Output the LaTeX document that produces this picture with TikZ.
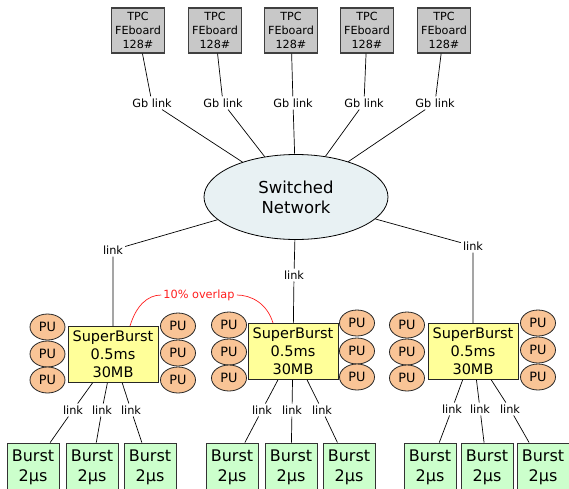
\documentclass[tikz,border=0pt]{standalone}
\usepackage{fontspec}
\setmainfont{DejaVu Sans}
\usetikzlibrary{shapes.geometric}
\definecolor{tpcgray}{RGB}{200,200,200}
\definecolor{swfill}{RGB}{232,241,243}
\definecolor{sbyellow}{RGB}{255,255,153}
\definecolor{puorange}{RGB}{249,196,150}
\definecolor{burstgreen}{RGB}{204,255,204}
\definecolor{ovred}{RGB}{255,30,30}
\begin{document}
\begin{tikzpicture}[x=1pt,y=-1pt,
  tpcbox/.style={draw, line width=1.2pt, draw=black!75, fill=tpcgray, minimum width=53pt, minimum height=45pt, inner sep=0pt, align=center, font=\fontsize{11.2}{13.8}\selectfont},
  lbl/.style={inner sep=2pt, font=\fontsize{11.3}{13}\selectfont},
  swnode/.style={ellipse, draw, line width=0.8pt, fill=swfill, minimum width=184pt, minimum height=85pt, inner sep=0pt, align=center, font=\fontsize{16.5}{20}\selectfont},
  sbbox/.style={draw, line width=0.9pt, draw=black!85, fill=sbyellow, minimum width=90pt, minimum height=56pt, inner sep=0pt, align=center, font=\fontsize{14.5}{18}\selectfont},
  punode/.style={ellipse, draw, line width=0.8pt, draw=black!85, fill=puorange, minimum width=35pt, minimum height=26pt, inner sep=0pt, font=\fontsize{12.8}{14}\selectfont},
  burstbox/.style={draw, line width=0.9pt, draw=black!80, fill=burstgreen, minimum width=52pt, minimum height=48pt, inner sep=0pt, align=center, font=\fontsize{16}{20}\selectfont},
  conn/.style={line width=0.7pt},
  ovconn/.style={line width=0.7pt, draw=ovred}
]
\useasboundingbox (0,0) rectangle (569,488);

% TPC boards
\foreach \i/\x in {1/138,2/215,3/291,4/367,5/444}
  \node[tpcbox] (tpc\i) at (\x,30.5) {TPC\\FEboard\\128\#};
% Gb link labels
\foreach \i/\x in {1/152,2/223,3/293,4/364,5/435}
  \node[lbl] (gl\i) at (\x,103) {Gb link};
% Switched network
\node[swnode] (sw) at (296,197) {Switched\\Network};
\foreach \i in {1,...,5}
  \draw[conn] (tpc\i) -- (gl\i) -- (sw);

% SuperBursts
\node[sbbox] (sb1) at (113,354.5) {SuperBurst\\0.5ms\\30MB};
\node[sbbox] (sb2) at (293,351.5) {SuperBurst\\0.5ms\\30MB};
\node[sbbox] (sb3) at (473,351.5) {SuperBurst\\0.5ms\\30MB};

% middle links
\node[lbl] (l1) at (113,250) {link};
\node[lbl] (l2) at (294,275) {link};
\node[lbl] (l3) at (473,246) {link};
\foreach \i in {1,2,3}
  \draw[conn] (sw) -- (l\i) -- (sb\i);

% PUs
\foreach \y [count=\j] in {327,354,380} \node[punode] (pua\j) at (47.5,\y) {PU};
\foreach \y [count=\j] in {326,353,380} \node[punode] (pub\j) at (178,\y) {PU};
\foreach \y [count=\j] in {325,352,378} \node[punode] (puc\j) at (229,\y) {PU};
\foreach \y [count=\j] in {323,351,377} \node[punode] (pud\j) at (357,\y) {PU};
\foreach \y [count=\j] in {325,352,378} \node[punode] (pue\j) at (407,\y) {PU};
\foreach \y [count=\j] in {323,350,377} \node[punode] (puf\j) at (538,\y) {PU};

% overlap
\node[lbl, text=ovred] (ov) at (199,295) {10\% overlap};
\draw[ovconn] ([xshift=17pt]sb1.north) .. controls +(6,-20) and +(-14,0) .. (ov.west);
\draw[ovconn] (ov.east) .. controls +(14,0) and +(-6,-20) .. ([xshift=-20pt]sb2.north);

% Bursts
\foreach \i/\x in {1/33,2/92,3/150,4/232,5/291,6/349,7/430,8/487,9/543}
  \node[burstbox] (b\i) at (\x,467) {Burst\\2µs};
% bottom link labels
\foreach \i/\x/\y in {1/73/410,2/102/410,3/131/410,4/262/410,5/292/410,6/322/410,7/452/409,8/480/409,9/510/409}
  \node[lbl] (bl\i) at (\x,\y) {link};
\foreach \i in {1,2,3} \draw[conn] (sb1) -- (bl\i) -- (b\i);
\foreach \i in {4,5,6} \draw[conn] (sb2) -- (bl\i) -- (b\i);
\foreach \i in {7,8,9} \draw[conn] (sb3) -- (bl\i) -- (b\i);
\end{tikzpicture}
\end{document}
